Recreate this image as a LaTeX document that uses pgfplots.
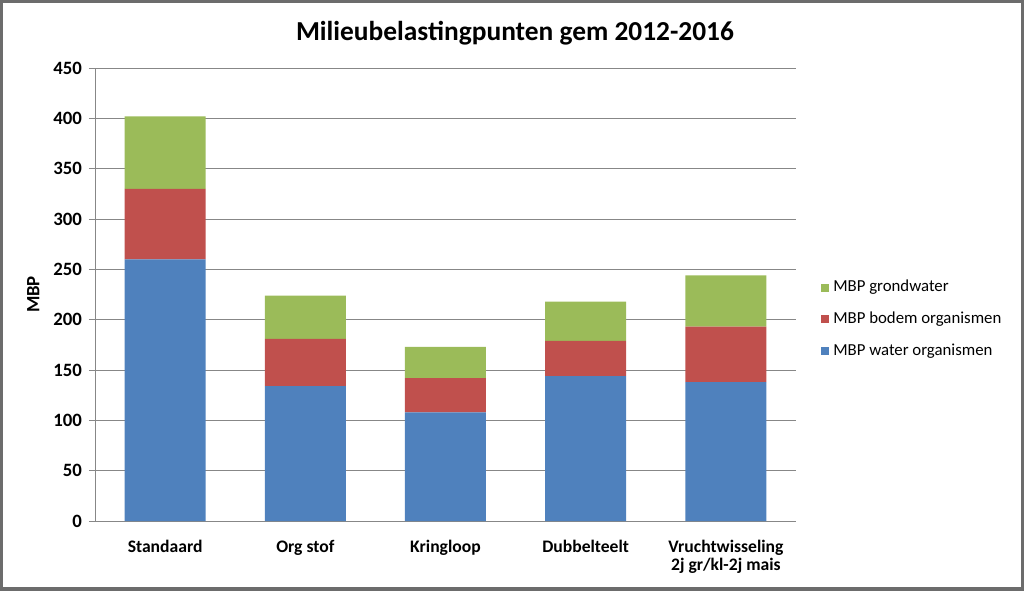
\documentclass[border=0pt]{standalone}
\usepackage{fontspec}
\setmainfont{Carlito}
\usepackage{pgfplots}
\pgfplotsset{compat=1.18}
\definecolor{mblue}{HTML}{4F81BD}
\definecolor{mred}{HTML}{C0504D}
\definecolor{mgreen}{HTML}{9BBB59}
\definecolor{gridc}{HTML}{878787}
\begin{document}
\begin{tikzpicture}[x=0.5pt,y=0.5pt]
% frame of the whole chart (1024 x 590 px, axis corner at px (95,521))
\draw[line width=1.6pt,color=gray!85!black] (-94,-68) rectangle (928,520);
\node[font=\bfseries\fontsize{13.7}{15}\selectfont] at (420,488) {Milieubelastingpunten gem 2012-2016};
\begin{axis}[
  at={(0,0)},anchor=south west,
  scale only axis,width=350.5pt,height=226.5pt,
  ybar stacked,bar width=40.5pt,
  xmin=-0.5,xmax=4.5,ymin=0,ymax=450,
  ytick={0,50,...,450},
  xtick={0,1,2,3,4},
  xticklabels={Standaard,Org stof,Kringloop,Dubbelteelt,{Vruchtwisseling\\2j gr/kl-2j mais}},
  xticklabel style={align=center,font=\bfseries\fontsize{8.8}{9.2}\selectfont,yshift=-3pt},
  yticklabel style={font=\bfseries\fontsize{9.4}{10}\selectfont,xshift=0pt},
  /pgf/number format/assume math mode=true,
  axis x line*=bottom,axis y line*=left,
  axis line style={gridc,-},
  major x tick style={draw=none},
  major y tick style={gridc},
  tick align=outside,major tick length=3pt,
  ymajorgrids,grid style={gridc,line width=0.4pt},
  ylabel={MBP},
  ylabel style={at={(axis description cs:-0.088,0.5)},anchor=center,
    font=\bfseries\fontsize{9.4}{10}\selectfont},
  legend style={at={(axis description cs:1.027,0.55)},anchor=north west,draw=none,
    font=\fontsize{8.4}{9.5}\selectfont,row sep=4.6pt,
    /tikz/every even column/.style={column sep=2pt}},
  legend cell align=left,
  reverse legend,
  legend image code/.code={\fill[#1] (0.5pt,-2pt) rectangle (4.5pt,2pt);},
]
\addplot[fill=mblue,draw=none] coordinates {(0,260) (1,134) (2,108) (3,144) (4,138)};
\addlegendentry{MBP water organismen}
\addplot[fill=mred,draw=none] coordinates {(0,70) (1,47) (2,34) (3,35) (4,55)};
\addlegendentry{MBP bodem organismen}
\addplot[fill=mgreen,draw=none] coordinates {(0,72) (1,43) (2,31) (3,39) (4,51)};
\addlegendentry{MBP grondwater}
\end{axis}
\pgfresetboundingbox
\path[use as bounding box] (-95,-69) rectangle (929,521);
\end{tikzpicture}
\end{document}
